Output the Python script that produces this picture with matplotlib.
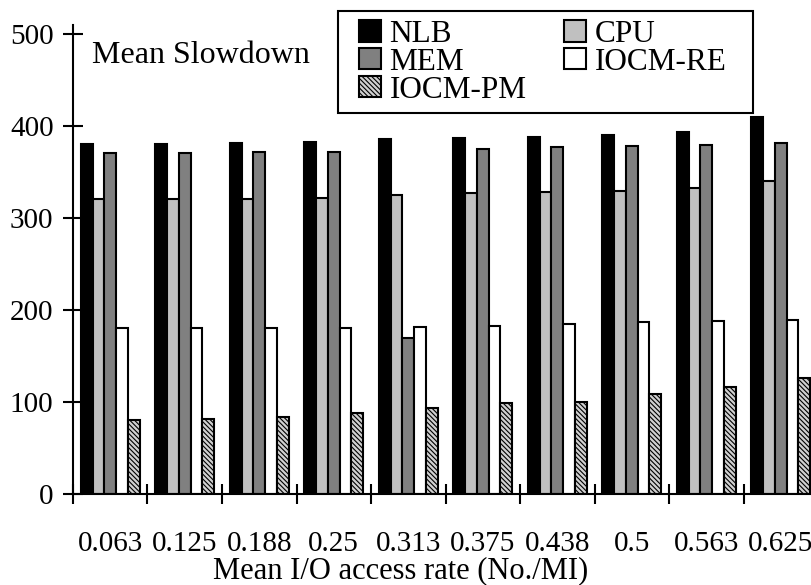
import numpy as np
import matplotlib.pyplot as plt
from matplotlib.patches import Patch, Rectangle

plt.rcParams['font.family'] = ['Liberation Serif', 'DejaVu Serif']
plt.rcParams['hatch.linewidth'] = 0.8

rates = ['0.063', '0.125', '0.188', '0.25', '0.313', '0.375', '0.438', '0.5', '0.563', '0.625']
nlb = [381, 381, 382, 383, 386, 387, 388, 390, 394, 410]
cpu = [321, 321, 321, 322, 325, 327, 328, 330, 333, 340]
mem = [371, 371, 372, 372, 170, 375, 377, 378, 380, 382]
iocm_re = [180, 180, 181, 181, 182, 183, 185, 187, 188, 189]
iocm_pm = [80, 82, 84, 88, 94, 99, 100, 109, 116, 126]

series = [
    ('NLB', nlb, dict(facecolor='black')),
    ('CPU', cpu, dict(facecolor='#c0c0c0')),
    ('MEM', mem, dict(facecolor='#808080')),
    ('IOCM-RE', iocm_re, dict(facecolor='white')),
    ('IOCM-PM', iocm_pm, dict(facecolor='#d0d0d0', hatch='\\' * 7)),
]

fig = plt.figure(figsize=(8.12, 5.85), dpi=100)
ax = fig.add_axes([0.0899, 0.1556, 0.9175, 0.8017])

x = np.arange(len(rates))
w = 0.158
handles = {}
for i, (name, vals, style) in enumerate(series):
    ax.bar(x + (i - 2) * w, vals, w, edgecolor='black', linewidth=1.5, **style)
    handles[name] = Patch(edgecolor='black', linewidth=1.5, **style)

ax.set_xlim(-0.5, 9.5)
ax.set_ylim(0, 510)
ax.set_yticks([0, 100, 200, 300, 400, 500])
ax.set_xticks(x)
ax.set_xticklabels(rates)
ax.set_xticks(np.arange(-0.5, 10, 1), minor=True)
ax.tick_params(axis='x', which='major', length=0, pad=27, labelsize=21)
ax.tick_params(axis='x', which='minor', direction='inout', length=14, width=1.5)
ax.tick_params(axis='y', direction='inout', length=14, width=1.5, pad=7, labelsize=21)
for s in ['top', 'right']:
    ax.spines[s].set_visible(False)
for s in ['left', 'bottom']:
    ax.spines[s].set_linewidth(1.5)

ax.set_xlabel('Mean I/O access rate (No./MI)', fontsize=22, labelpad=-1, x=0.44)
ax.text(0.0255, 0.919, 'Mean Slowdown', transform=ax.transAxes, fontsize=23, va='baseline')

# legend box drawn separately so the padding matches the original
fig.patches.append(Rectangle((338 / 812, 1 - 113 / 585), 415 / 812, 102 / 585,
                             transform=fig.transFigure, facecolor='white',
                             edgecolor='black', linewidth=1.5, zorder=3))
order = ['NLB', 'MEM', 'IOCM-PM', 'CPU', 'IOCM-RE']
leg = fig.legend([handles[n] for n in order], order, ncol=2, loc='upper left',
                 bbox_to_anchor=(359 / 812, 1 - 20 / 585), borderaxespad=0,
                 fontsize=22.5, frameon=False, handlelength=0.7, handleheight=0.67,
                 handletextpad=0.28, labelspacing=-0.04, columnspacing=1.2, borderpad=0)
leg.set_zorder(4)

fig.savefig('out.png', dpi=100)
